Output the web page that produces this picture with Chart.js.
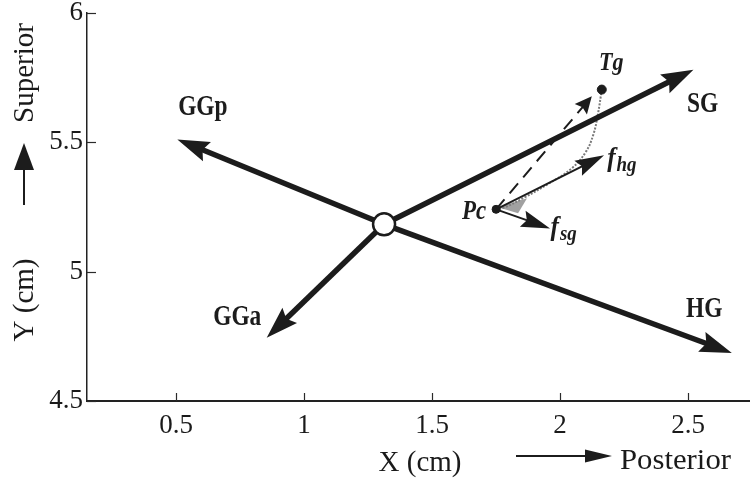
<!DOCTYPE html>
<html>
<head>
<meta charset="utf-8">
<script src="https://cdn.jsdelivr.net/npm/chart.js@4/dist/chart.umd.min.js"></script>
<style>
html,body{margin:0;padding:0;background:#fff;}
canvas{display:block;}
</style>
</head>
<body>
<canvas id="c" width="750" height="486"></canvas>
<script>
// ---------- data ----------
const xTickValues = [0.5, 1, 1.5, 2, 2.5];
const xTickLabels = ['0.5', '1', '1.5', '2', '2.5'];
const yTickValues = [4.5, 5, 5.5, 6];
const yTickLabels = ['4.5', '5', '5.5', '6'];

const hyoidCenter = {x: 1.3125, y: 5.183};
const muscleNames = ['GGp', 'GGa', 'SG', 'HG'];
const muscleTipX = [0.505, 0.854, 2.521, 2.671];
const muscleTipY = [5.511, 4.745, 5.781, 4.686];

const pcPoint = {x: 1.75, y: 5.241};
const tgPoint = {x: 2.163, y: 5.704};
const forceNames = ['fhg', 'fsg'];
const forceTipX = [2.172, 1.961];
const forceTipY = [5.450, 5.167];
const dashedTip = {x: 2.124, y: 5.678};

const pathX = [2.163, 2.148, 2.130, 2.100, 2.045, 1.955, 1.863, 1.785, 1.75];
const pathY = [5.704, 5.610, 5.530, 5.462, 5.399, 5.340, 5.288, 5.249, 5.241];

const wedgeX = [1.758, 1.871, 1.836];
const wedgeY = [5.249, 5.284, 5.226];

// text anchors (data coords, left/baseline)
const textLabels = [
  {t: 'GGp', x: 0.508, y: 5.605},
  {t: 'GGa', x: 0.645, y: 4.793},
  {t: 'SG',  x: 2.496, y: 5.616},
  {t: 'HG',  x: 2.492, y: 4.824}
];
const pcLabel = {t: 'Pc', x: 1.617, y: 5.203};
const tgLabel = {t: 'Tg', x: 2.152, y: 5.778};
const forceLabels = [
  {f: 'f', sub: 'hg', x: 2.184, y: 5.410},
  {f: 'f', sub: 'sg', x: 1.963, y: 5.140}
];

// ---------- styling ----------
const INK = '#1c1c1c';
const SERIF = '"Liberation Serif", "Times New Roman", serif';

const datasets = [];
datasets.push({
  label: 'hyoid', data: [hyoidCenter], showLine: false, order: 0,
  pointRadius: 11, pointBackgroundColor: '#ffffff', pointBorderColor: INK, pointBorderWidth: 2.5
});
datasets.push({
  label: 'Pc', data: [pcPoint], showLine: false, order: 1,
  pointRadius: 4, pointBackgroundColor: INK, pointBorderColor: INK, pointBorderWidth: 1
});
datasets.push({
  label: 'Tg', data: [tgPoint], showLine: false, order: 1,
  pointRadius: 4.5, pointBackgroundColor: INK, pointBorderColor: INK, pointBorderWidth: 1
});
muscleNames.forEach((n, i) => {
  datasets.push({
    label: n, data: [hyoidCenter, {x: muscleTipX[i], y: muscleTipY[i]}],
    showLine: true, borderColor: INK, borderWidth: 5.5, pointRadius: 0, order: 5,
    arrowHead: {length: 32, half: 10.5}
  });
});
forceNames.forEach((n, i) => {
  datasets.push({
    label: n, data: [pcPoint, {x: forceTipX[i], y: forceTipY[i]}],
    showLine: true, borderColor: INK, borderWidth: 2, pointRadius: 0, order: 4,
    arrowHead: {length: 29, half: 8.5}
  });
});
datasets.push({
  label: 'Pc-Tg', data: [pcPoint, dashedTip],
  showLine: true, borderColor: INK, borderWidth: 2, borderDash: [13, 8], pointRadius: 0, order: 4,
  arrowHead: {length: 17, half: 8}
});
datasets.push({
  label: 'path', data: pathX.map((x, i) => ({x: x, y: pathY[i]})),
  showLine: true, borderColor: '#7a7a7a', borderWidth: 2, borderDash: [2, 1.5], tension: 0.4,
  pointRadius: 0, order: 6
});
datasets.push({
  label: 'wedge', data: wedgeX.map((x, i) => ({x: x, y: wedgeY[i]})),
  showLine: false, pointRadius: 0, order: 7, polyFill: 'rgba(110,110,110,0.65)'
});

// ---------- plugins ----------
const arrowPlugin = {
  id: 'arrowHeads',
  beforeDatasetDraw(chart, args) {
    const ds = chart.data.datasets[args.index];
    if (!ds.arrowHead) return;
    const pts = args.meta.data, n = pts.length;
    const a = pts[n - 2], b = pts[n - 1];
    b._tipX = b.x; b._tipY = b.y;
    const dx = b._tipX - a.x, dy = b._tipY - a.y, len = Math.hypot(dx, dy);
    const back = ds.arrowHead.length * 0.6;
    b.x = b._tipX - dx / len * back;
    b.y = b._tipY - dy / len * back;
  },
  afterDatasetDraw(chart, args) {
    const ds = chart.data.datasets[args.index];
    const ctx = chart.ctx;
    if (ds.polyFill) {
      const pts = args.meta.data;
      ctx.save();
      ctx.fillStyle = ds.polyFill;
      ctx.beginPath();
      pts.forEach((p, k) => k ? ctx.lineTo(p.x, p.y) : ctx.moveTo(p.x, p.y));
      ctx.closePath();
      ctx.fill();
      ctx.restore();
    }
    if (!ds.arrowHead) return;
    const pts = args.meta.data, n = pts.length;
    const a = pts[n - 2], b = pts[n - 1];
    const tx = b._tipX, ty = b._tipY;
    b.x = tx; b.y = ty;
    const dx = tx - a.x, dy = ty - a.y, len = Math.hypot(dx, dy);
    const ux = dx / len, uy = dy / len;
    const L = ds.arrowHead.length, H = ds.arrowHead.half;
    const bx = tx - ux * L, by = ty - uy * L;
    ctx.save();
    ctx.fillStyle = ds.borderColor;
    ctx.beginPath();
    ctx.moveTo(tx, ty);
    ctx.lineTo(bx - uy * H, by + ux * H);
    ctx.lineTo(tx - ux * L * 0.85, ty - uy * L * 0.85);
    ctx.lineTo(bx + uy * H, by - ux * H);
    ctx.closePath();
    ctx.fill();
    ctx.restore();
  }
};

function drawArrow(ctx, x1, y1, x2, y2, L, H, w) {
  const dx = x2 - x1, dy = y2 - y1, len = Math.hypot(dx, dy);
  const ux = dx / len, uy = dy / len;
  ctx.save();
  ctx.strokeStyle = INK; ctx.fillStyle = INK; ctx.lineWidth = w;
  ctx.beginPath(); ctx.moveTo(x1, y1); ctx.lineTo(x2 - ux * L * 0.7, y2 - uy * L * 0.7); ctx.stroke();
  const bx = x2 - ux * L, by = y2 - uy * L;
  ctx.beginPath();
  ctx.moveTo(x2, y2);
  ctx.lineTo(bx - uy * H, by + ux * H);
  ctx.lineTo(bx + uy * H, by - ux * H);
  ctx.closePath(); ctx.fill();
  ctx.restore();
}

function condensedText(ctx, text, x, y, font, sx, align) {
  ctx.save();
  ctx.font = font;
  ctx.translate(x, y);
  ctx.scale(sx, 1);
  ctx.textAlign = align || 'left';
  ctx.textBaseline = 'alphabetic';
  ctx.fillText(text, 0, 0);
  const w = ctx.measureText(text).width * sx;
  ctx.restore();
  return w;
}

const decorPlugin = {
  id: 'decor',
  afterDraw(chart) {
    const ctx = chart.ctx;
    const xs = chart.scales.x, ys = chart.scales.y;
    const area = chart.chartArea;
    ctx.save();
    // inward tick marks
    ctx.strokeStyle = '#2a2a2a';
    ctx.lineWidth = 1.2;
    xTickValues.forEach(v => {
      const px = Math.round(xs.getPixelForValue(v)) + 0.5;
      ctx.beginPath(); ctx.moveTo(px, area.bottom); ctx.lineTo(px, area.bottom - 8); ctx.stroke();
    });
    yTickValues.forEach(v => {
      const py = Math.round(ys.getPixelForValue(v)) + 0.5;
      ctx.beginPath(); ctx.moveTo(area.left, py); ctx.lineTo(area.left + 9, py); ctx.stroke();
    });
    ctx.fillStyle = INK;
    // muscle labels
    textLabels.forEach(l => {
      condensedText(ctx, l.t, xs.getPixelForValue(l.x), ys.getPixelForValue(l.y),
        'bold 30px ' + SERIF, 0.78);
    });
    condensedText(ctx, pcLabel.t, xs.getPixelForValue(pcLabel.x), ys.getPixelForValue(pcLabel.y),
      'italic bold 27px ' + SERIF, 0.85);
    condensedText(ctx, tgLabel.t, xs.getPixelForValue(tgLabel.x), ys.getPixelForValue(tgLabel.y),
      'italic bold 26px ' + SERIF, 0.85);
    forceLabels.forEach(l => {
      const px = xs.getPixelForValue(l.x), py = ys.getPixelForValue(l.y);
      const w = condensedText(ctx, l.f, px, py, 'italic bold 28px ' + SERIF, 0.9);
      condensedText(ctx, l.sub, px + w + 1, py + 5, 'italic bold 21px ' + SERIF, 0.9);
    });
    // axis titles
    ctx.fillStyle = '#1a1a1a';
    condensedText(ctx, 'X (cm)', 420, 471, '29px ' + SERIF, 1, 'center');
    condensedText(ctx, 'Posterior', 620, 469, '29px ' + SERIF, 1.06, 'left');
    drawArrow(ctx, 516, 456, 612, 456, 27, 6.5, 2);
    ctx.save();
    ctx.translate(33, 300); ctx.rotate(-Math.PI / 2);
    condensedText(ctx, 'Y (cm)', 0, 0, '29px ' + SERIF, 1, 'center');
    ctx.restore();
    ctx.save();
    ctx.translate(33, 73); ctx.rotate(-Math.PI / 2);
    condensedText(ctx, 'Superior', 0, 0, '29px ' + SERIF, 1, 'center');
    ctx.restore();
    drawArrow(ctx, 24, 205, 24, 143, 27, 10, 2);
    ctx.restore();
  }
};

// ---------- chart ----------
new Chart(document.getElementById('c'), {
  type: 'scatter',
  data: {datasets: datasets},
  options: {
    responsive: false,
    animation: false,
    devicePixelRatio: 1,
    layout: {autoPadding: false, padding: {top: 13, right: 0, left: 0, bottom: 0}},
    plugins: {legend: {display: false}, tooltip: {enabled: false}},
    scales: {
      x: {
        type: 'linear', min: 0.152, max: 2.742,
        afterBuildTicks: s => { s.ticks = xTickValues.map(v => ({value: v})); },
        afterFit: s => { s.height = 85; s.paddingLeft = 0; s.paddingRight = 0; },
        grid: {display: false, drawTicks: false},
        border: {display: true, color: '#222', width: 2},
        ticks: {
          padding: 9, color: '#1a1a1a', maxRotation: 0, autoSkip: false,
          font: {family: SERIF, size: 27},
          callback: (v) => { const k = xTickValues.indexOf(v); return k >= 0 ? xTickLabels[k] : ''; }
        }
      },
      y: {
        type: 'linear', min: 4.5, max: 6,
        afterBuildTicks: s => { s.ticks = yTickValues.map(v => ({value: v})); },
        afterFit: s => { s.width = 87; s.paddingTop = 0; s.paddingBottom = 0; },
        grid: {display: false, drawTicks: false},
        border: {display: true, color: '#222', width: 1.5},
        ticks: {
          padding: 4, color: '#1a1a1a', autoSkip: false,
          font: {family: SERIF, size: 27},
          callback: (v) => { const k = yTickValues.indexOf(v); return k >= 0 ? yTickLabels[k] : ''; }
        }
      }
    }
  },
  plugins: [arrowPlugin, decorPlugin]
});
</script>
</body>
</html>
